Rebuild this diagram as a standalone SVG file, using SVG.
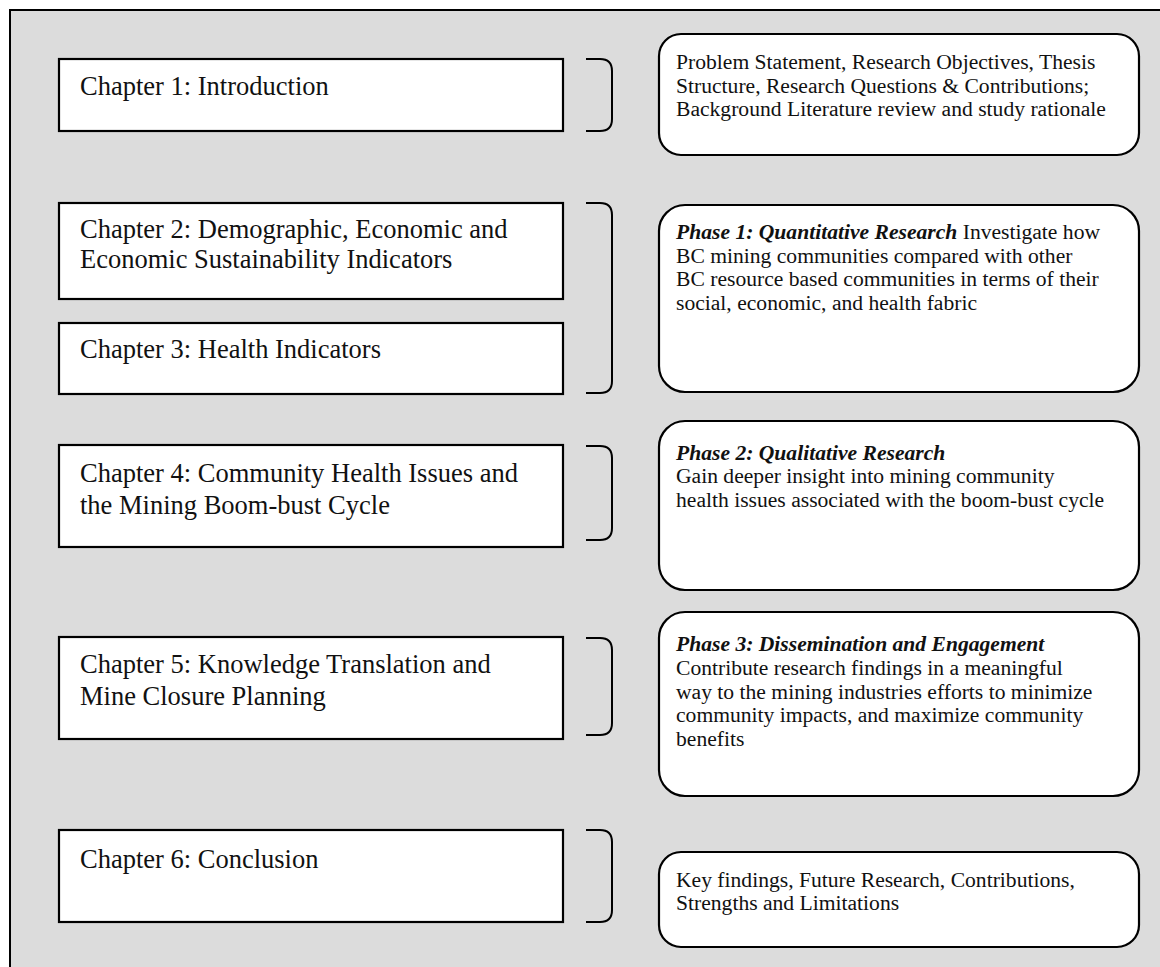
<svg xmlns="http://www.w3.org/2000/svg" width="1160" height="967" viewBox="0 0 1160 967">
  <style>
    .frame { fill: #dcdcdc; stroke: #000; stroke-width: 2; }
    .chap { fill: #fff; stroke: #000; stroke-width: 2.2; }
    .desc { fill: #fff; stroke: #000; stroke-width: 2.2; }
    .brace { fill: none; stroke: #000; stroke-width: 2; }
    .ct { font-family: "Liberation Serif", "Times New Roman", serif; font-size: 26.5px; fill: #111; }
    .dt { font-family: "Liberation Serif", "Times New Roman", serif; font-size: 21.6px; fill: #111; }
    .bi { font-weight: bold; font-style: italic; }
  </style>

  <!-- shaded background panel -->
  <rect class="frame" x="10" y="10" width="1200" height="1000"/>

  <!-- chapter boxes -->
  <g id="ch1">
    <rect class="chap" x="59" y="59" width="504" height="72"/>
    <text class="ct" x="80" y="95">Chapter 1: Introduction</text>
  </g>
  <g id="ch2">
    <rect class="chap" x="59" y="203" width="504" height="96"/>
    <text class="ct" x="80" y="238">Chapter 2: Demographic, Economic and</text>
    <text class="ct" x="80" y="268">Economic Sustainability Indicators</text>
  </g>
  <g id="ch3">
    <rect class="chap" x="59" y="323" width="504" height="71"/>
    <text class="ct" x="80" y="358">Chapter 3: Health Indicators</text>
  </g>
  <g id="ch4">
    <rect class="chap" x="59" y="445" width="504" height="102"/>
    <text class="ct" x="80" y="482">Chapter 4: Community Health Issues and</text>
    <text class="ct" x="80" y="514">the Mining Boom-bust Cycle</text>
  </g>
  <g id="ch5">
    <rect class="chap" x="59" y="637" width="504" height="102"/>
    <text class="ct" x="80" y="673">Chapter 5: Knowledge Translation and</text>
    <text class="ct" x="80" y="705">Mine Closure Planning</text>
  </g>
  <g id="ch6">
    <rect class="chap" x="59" y="830" width="504" height="92"/>
    <text class="ct" x="80" y="868">Chapter 6: Conclusion</text>
  </g>

  <!-- square brackets grouping chapters to their descriptions -->
  <g id="connectors">
    <path class="brace" d="M586 59 H600 Q612 59 612 71 V119 Q612 131 600 131 H586"/>
    <path class="brace" d="M586 203 H600 Q612 203 612 215 V381 Q612 393 600 393 H586"/>
    <path class="brace" d="M586 446 H600 Q612 446 612 458 V528 Q612 540 600 540 H586"/>
    <path class="brace" d="M586 638 H600 Q612 638 612 650 V723 Q612 735 600 735 H586"/>
    <path class="brace" d="M586 830 H600 Q612 830 612 842 V910 Q612 922 600 922 H586"/>
  </g>

  <!-- description boxes -->
  <g id="d1">
    <rect class="desc" x="659" y="34" width="480" height="121" rx="22"/>
    <text class="dt" x="676" y="69">Problem Statement, Research Objectives, Thesis</text>
    <text class="dt" x="676" y="93">Structure, Research Questions &amp; Contributions;</text>
    <text class="dt" x="676" y="116">Background Literature review and study rationale</text>
  </g>
  <g id="d2">
    <rect class="desc" x="659" y="205" width="480" height="187" rx="26"/>
    <text class="dt" x="676" y="239"><tspan class="bi">Phase 1: Quantitative Research</tspan> Investigate how</text>
    <text class="dt" x="676" y="263">BC mining communities compared with  other</text>
    <text class="dt" x="676" y="286">BC resource based  communities in terms of their</text>
    <text class="dt" x="676" y="310">social,  economic, and health fabric</text>
  </g>
  <g id="d3">
    <rect class="desc" x="659" y="421" width="480" height="169" rx="26"/>
    <text class="dt bi" x="676" y="460">Phase 2: Qualitative Research</text>
    <text class="dt" x="676" y="483">Gain deeper insight into mining community</text>
    <text class="dt" x="676" y="507">health issues associated with the  boom-bust cycle</text>
  </g>
  <g id="d4">
    <rect class="desc" x="659" y="612" width="480" height="184" rx="26"/>
    <text class="dt bi" x="676" y="651">Phase 3: Dissemination and Engagement</text>
    <text class="dt" x="676" y="675">Contribute research findings in a  meaningful</text>
    <text class="dt" x="676" y="699">way to the mining  industries efforts to minimize</text>
    <text class="dt" x="676" y="722">community  impacts, and maximize community</text>
    <text class="dt" x="676" y="746">benefits</text>
  </g>
  <g id="d5">
    <rect class="desc" x="659" y="852" width="480" height="95" rx="22"/>
    <text class="dt" x="676" y="887">Key findings, Future Research, Contributions,</text>
    <text class="dt" x="676" y="910">Strengths and Limitations</text>
  </g>
</svg>
